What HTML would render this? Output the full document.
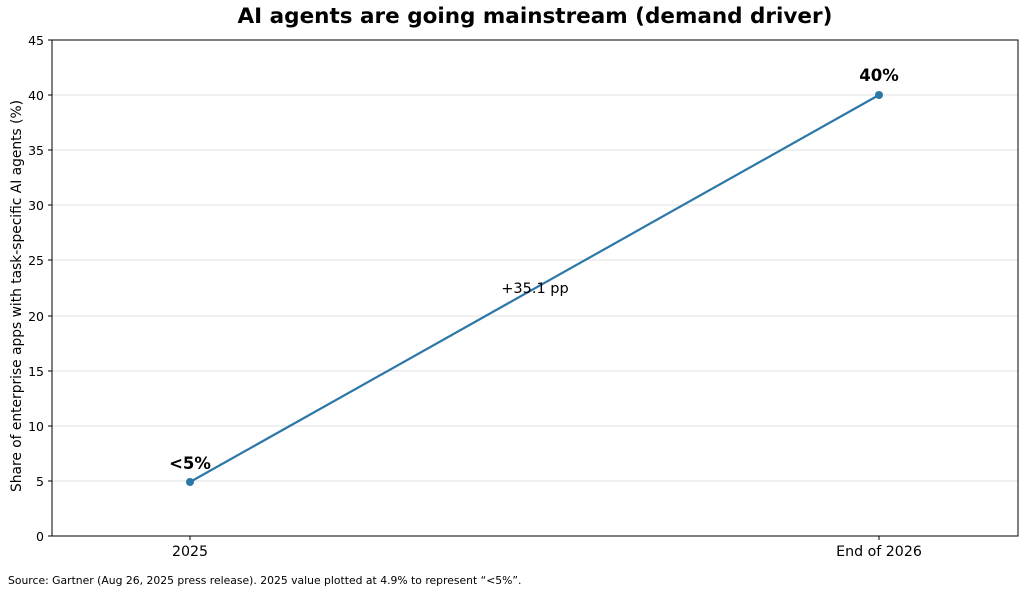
<!DOCTYPE html>
<html><head><meta charset="utf-8"><style>
body{margin:0;background:#fff;}
svg{display:block;font-family:"DejaVu Sans","Liberation Sans",sans-serif;}
</style></head><body>
<svg width="1024" height="594" viewBox="0 0 1024 594" xmlns="http://www.w3.org/2000/svg">
<rect width="1024" height="594" fill="#fff"/>
<text x="535" y="23" text-anchor="middle" font-size="21.5" font-weight="bold" fill="#000">AI agents are going mainstream (demand driver)</text>
<g stroke="#e0e0e0" stroke-width="1">
<line x1="52" x2="1018" y1="481" y2="481"/>
<line x1="52" x2="1018" y1="426" y2="426"/>
<line x1="52" x2="1018" y1="371" y2="371"/>
<line x1="52" x2="1018" y1="316" y2="316"/>
<line x1="52" x2="1018" y1="260" y2="260"/>
<line x1="52" x2="1018" y1="205" y2="205"/>
<line x1="52" x2="1018" y1="150" y2="150"/>
<line x1="52" x2="1018" y1="95" y2="95"/>
</g>
<rect x="52" y="40" width="966" height="496" fill="none" stroke="#000" stroke-width="1"/>
<g font-size="12.5" text-anchor="end" fill="#000">
<text x="44" y="541">0</text><text x="44" y="486">5</text><text x="44" y="431">10</text>
<text x="44" y="376">15</text><text x="44" y="321">20</text><text x="44" y="265">25</text>
<text x="44" y="210">30</text><text x="44" y="155">35</text><text x="44" y="100">40</text><text x="44" y="45">45</text>
</g>
<g stroke="#000"><line x1="48" x2="52" y1="536" y2="536"/><line x1="48" x2="52" y1="481" y2="481"/><line x1="48" x2="52" y1="426" y2="426"/><line x1="48" x2="52" y1="371" y2="371"/><line x1="48" x2="52" y1="316" y2="316"/><line x1="48" x2="52" y1="260" y2="260"/><line x1="48" x2="52" y1="205" y2="205"/><line x1="48" x2="52" y1="150" y2="150"/><line x1="48" x2="52" y1="95" y2="95"/><line x1="48" x2="52" y1="40" y2="40"/>
<line x1="190" x2="190" y1="536" y2="540"/><line x1="879" x2="879" y1="536" y2="540"/></g>
<g font-size="14.2" text-anchor="middle"><text x="190" y="556">2025</text><text x="879" y="556">End of 2026</text></g>
<text transform="translate(21,296) rotate(-90)" text-anchor="middle" font-size="13.8">Share of enterprise apps with task-specific AI agents (%)</text>
<line x1="190" y1="482" x2="879" y2="95" stroke="#2b77a8" stroke-width="2.2"/>
<circle cx="190" cy="482" r="4" fill="#2b77a8"/><circle cx="879" cy="95" r="4" fill="#2b77a8"/>
<text x="190" y="469" text-anchor="middle" font-size="16.5" font-weight="bold">&lt;5%</text>
<text x="879" y="81" text-anchor="middle" font-size="16.5" font-weight="bold">40%</text>
<text x="535" y="293" text-anchor="middle" font-size="14.5">+35.1 pp</text>
<text x="8" y="584" font-size="10.8">Source: Gartner (Aug 26, 2025 press release). 2025 value plotted at 4.9% to represent “&lt;5%”.</text>
</svg>
</body></html>
